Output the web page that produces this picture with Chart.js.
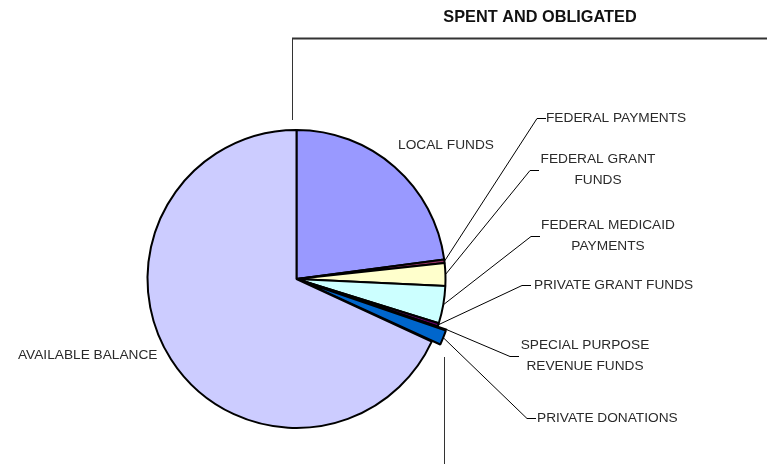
<!DOCTYPE html>
<html>
<head>
<meta charset="utf-8">
<script src="https://cdn.jsdelivr.net/npm/chart.js@4/dist/chart.umd.min.js"></script>
<style>
  html, body { margin: 0; padding: 0; background: #fff; }
  #wrap { position: relative; width: 767px; height: 464px; }
</style>
</head>
<body>
<div id="wrap"><canvas id="chart" width="767" height="464"></canvas></div>
<script>
// fund sources, clockwise from 12 o'clock (percent of budget)
const sources = ['LOCAL FUNDS', 'FEDERAL PAYMENTS', 'FEDERAL GRANT FUNDS', 'FEDERAL MEDICAID PAYMENTS',
  'PRIVATE GRANT FUNDS', 'SPECIAL PURPOSE REVENUE FUNDS', 'PRIVATE DONATIONS', 'AVAILABLE BALANCE'];
const shares = [22.9, 0.4, 2.45, 4.05, 0.35, 0.05, 1.7, 68.1];
const sliceColors = ['#9999FF', '#993366', '#FFFFCC', '#CCFFFF', '#660066', '#FF8080', '#0066CC', '#CCCCFF'];
const pulledOut = [0, 0, 0, 0, 0, 19, 19, 0];
const titleText = 'SPENT AND OBLIGATED';

// where each label sits; elbow = bend of the leader line
const labelLayout = [
  { lines: ['LOCAL FUNDS'], x: 446, y: 145, align: 'center' },
  { lines: ['FEDERAL PAYMENTS'], x: 546, y: 118, align: 'left', elbow: [537, 118] },
  { lines: ['FEDERAL GRANT', 'FUNDS'], x: 598, y: 159, align: 'center', elbow: [530, 170] },
  { lines: ['FEDERAL MEDICAID', 'PAYMENTS'], x: 608, y: 225, align: 'center', elbow: [531, 236] },
  { lines: ['PRIVATE GRANT FUNDS'], x: 534, y: 285, align: 'left', elbow: [522, 285] },
  { lines: ['SPECIAL PURPOSE', 'REVENUE FUNDS'], x: 585, y: 345, align: 'center', elbow: [510, 356] },
  { lines: ['PRIVATE DONATIONS'], x: 537, y: 418, align: 'left', elbow: [527, 418] },
  { lines: ['AVAILABLE BALANCE'], x: 18, y: 355, align: 'left' }
];

// how far Chart.js actually shifts an arc with a given offset
function pullDistance(arc) {
  const off = (arc.options.offset || 0) / 4;
  const circ = arc.endAngle - arc.startAngle;
  return off * (2 - Math.sin(Math.min(Math.PI, circ)));
}

const labelPlugin = {
  id: 'sliceLabels',
  afterDraw(chart) {
    const ctx = chart.ctx;
    const arcs = chart.getDatasetMeta(0).data;
    ctx.save();
    ctx.strokeStyle = '#000';
    ctx.lineWidth = 1;
    ctx.font = '13.7px "Liberation Sans", Arial, sans-serif';
    ctx.fillStyle = '#2a2a2a';
    ctx.textBaseline = 'middle';
    labelLayout.forEach(function(lab, i) {
      if (lab.elbow) {
        const arc = arcs[i];
        const mid = (arc.startAngle + arc.endAngle) / 2;
        const r = arc.outerRadius + pullDistance(arc);
        const ax = arc.x + Math.cos(mid) * r;
        const ay = arc.y + Math.sin(mid) * r;
        ctx.beginPath();
        ctx.moveTo(ax, ay);
        ctx.lineTo(lab.elbow[0], lab.elbow[1] + 0.5);
        ctx.lineTo(lab.elbow[0] + 9, lab.elbow[1] + 0.5);
        ctx.stroke();
      }
      ctx.textAlign = lab.align;
      lab.lines.forEach(function(line, k) {
        ctx.fillText(line, lab.x, lab.y + k * 21.5);
      });
    });

    // bracket around the spent part
    ctx.strokeStyle = '#333';
    ctx.lineWidth = 1;
    ctx.beginPath();
    ctx.moveTo(292.5, 120);
    ctx.lineTo(292.5, 38);
    ctx.stroke();
    ctx.lineWidth = 2;
    ctx.beginPath();
    ctx.moveTo(292, 38.5);
    ctx.lineTo(767, 38.5);
    ctx.stroke();
    ctx.lineWidth = 1;
    ctx.beginPath();
    ctx.moveTo(444.5, 357);
    ctx.lineTo(444.5, 464);
    ctx.stroke();

    ctx.font = 'bold 16.3px "Liberation Sans", Arial, sans-serif';
    ctx.fillStyle = '#111';
    ctx.textAlign = 'center';
    ctx.fillText(titleText, 540, 18);
    ctx.restore();
  }
};

new Chart(document.getElementById('chart'), {
  type: 'pie',
  data: {
    labels: sources,
    datasets: [{
      data: shares,
      backgroundColor: sliceColors,
      borderColor: '#000',
      borderWidth: 2,
      offset: pulledOut,
      radius: 149
    }]
  },
  options: {
    responsive: false,
    animation: false,
    events: [],
    layout: { padding: { left: 0, right: 174, top: 94, bottom: 0 } },
    plugins: {
      legend: { display: false },
      tooltip: { enabled: false },
      title: { display: false }
    }
  },
  plugins: [labelPlugin]
});
</script>
</body>
</html>
